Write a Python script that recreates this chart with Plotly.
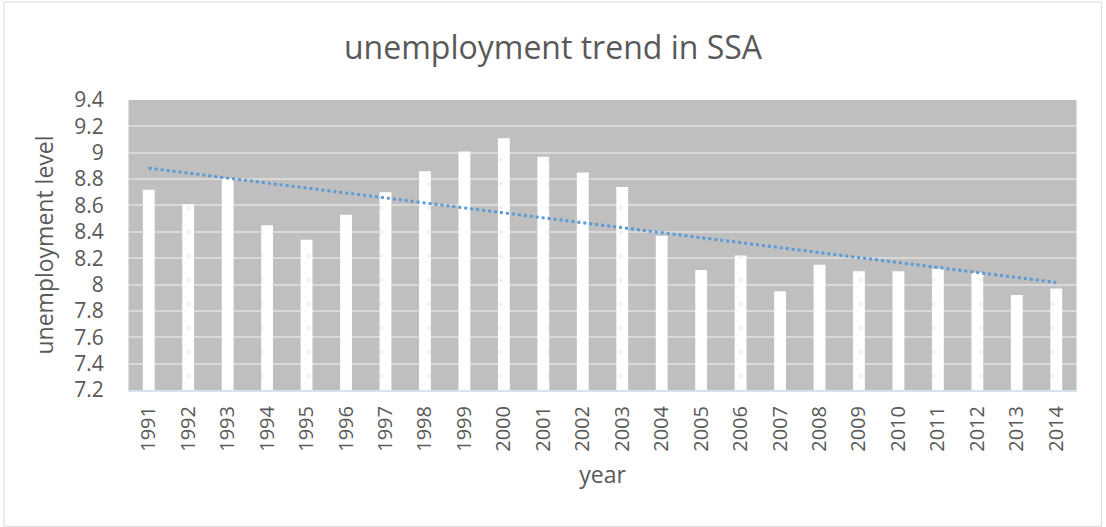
import numpy as np
import plotly.graph_objects as go

years = [str(y) for y in range(1991, 2015)]
unemployment = [8.72, 8.61, 8.80, 8.45, 8.34, 8.53, 8.70, 8.86, 9.01, 9.11, 8.97, 8.85,
                8.74, 8.37, 8.11, 8.22, 7.95, 8.15, 8.10, 8.10, 8.12, 8.09, 7.92, 7.97]
y_ticks = [7.2, 7.4, 7.6, 7.8, 8.0, 8.2, 8.4, 8.6, 8.8, 9.0, 9.2, 9.4]
y_tick_text = ["7.2", "7.4", "7.6", "7.8", "8", "8.2", "8.4", "8.6", "8.8", "9", "9.2", "9.4"]

# linear trendline from the data
idx = np.arange(len(years))
slope, intercept = np.polyfit(idx, unemployment, 1)
trend = slope * idx + intercept

FONT = "Open Sans"
TXT = "#595959"

fig = go.Figure()
fig.add_trace(go.Bar(
    x=years, y=[v - 7.2 for v in unemployment], base=7.2,
    marker=dict(color="white", line=dict(width=0),
                pattern=dict(shape=".", fgcolor="#e6e6e6", bgcolor="white", size=24, solidity=0.03)),
    width=0.3, showlegend=False, hoverinfo="skip",
))
fig.add_trace(go.Scatter(
    x=years, y=trend, mode="lines",
    line=dict(color="#5b9bd5", width=3, dash="dot"),
    showlegend=False,
))

fig.update_layout(
    width=1106, height=527,
    paper_bgcolor="white", plot_bgcolor="#bfbfbf",
    margin=dict(l=129, r=30, t=100, b=137),
    title=dict(text="unemployment trend in SSA", x=0.5, xanchor="center",
               y=0.91, yanchor="middle",
               font=dict(family=FONT, size=32, color=TXT)),
    font=dict(family=FONT, color=TXT),
    bargap=0.7,
    shapes=[dict(type="rect", xref="paper", yref="paper", x0=-0.132, x1=1.027, y0=-0.47, y1=1.338,
                 line=dict(color="#d9d9d9", width=1))],
)
fig.update_xaxes(
    type="category", tickangle=-90, tickfont=dict(size=20, color=TXT),
    title=dict(text="year", font=dict(size=23, color=TXT), standoff=16),
    showgrid=False, showline=True, linecolor="#d6e2ef", linewidth=2, mirror=False,
    ticks="", ticklabelstandoff=6,
)
fig.update_yaxes(
    range=[7.2, 9.4], tickvals=y_ticks, ticktext=y_tick_text,
    tickfont=dict(size=21, color=TXT),
    title=dict(text="unemployment level", font=dict(size=23, color=TXT), standoff=14),
    showgrid=True, gridcolor="#d9d9d9", gridwidth=2, zeroline=False,
    showline=True, linecolor="#d6e2ef", linewidth=1, mirror=True, ticks="",
    ticklabelstandoff=20,
)

fig.write_html("out.html")
